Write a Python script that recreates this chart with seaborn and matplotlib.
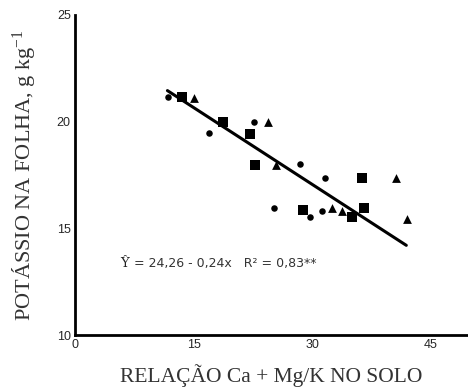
import matplotlib
matplotlib.use("Agg")
import matplotlib.pyplot as plt
import seaborn as sns
import pandas as pd
import numpy as np

# data
circ_x = [11.8, 17.0, 22.7, 28.4, 31.6, 25.2, 31.3, 29.7]
circ_y = [21.14, 19.45, 19.97, 18.0, 17.36, 15.94, 15.83, 15.52]
sq_x = [13.6, 18.7, 22.1, 22.8, 28.8, 35.0, 36.3, 36.6]
sq_y = [21.14, 19.97, 19.44, 17.98, 15.84, 15.52, 17.36, 15.97]
tri_x = [15.0, 24.4, 25.4, 32.5, 33.8, 40.6, 42.0]
tri_y = [21.1, 19.96, 17.97, 15.94, 15.81, 17.34, 15.44]

intercept = 24.26
slope = -0.24
fit_range = [11.7, 41.9]

xticks = [0, 15, 30, 45]
yticks = [10, 15, 20, 25]

df = pd.DataFrame({
    "x": circ_x + sq_x + tri_x,
    "y": circ_y + sq_y + tri_y,
    "g": ["c"] * len(circ_x) + ["s"] * len(sq_x) + ["t"] * len(tri_x),
})

sns.set_style("white")
plt.rcParams["font.family"] = ["Liberation Sans", "DejaVu Sans"]
plt.rcParams["mathtext.fontset"] = "custom"
plt.rcParams["mathtext.rm"] = "Liberation Serif"
plt.rcParams["mathtext.default"] = "rm"

fig = plt.figure(figsize=(4.68, 3.91), dpi=100)
ax = fig.add_axes([0.160, 0.143, 0.840, 0.819])

marker_map = {"c": ("o", 22), "s": ("s", 42), "t": ("^", 40)}
for g, (m, s) in marker_map.items():
    sub = df[df["g"] == g]
    sns.scatterplot(data=sub, x="x", y="y", marker=m, s=s, color="black",
                    edgecolor="black", linewidth=0, ax=ax, legend=False, zorder=3)

fx = np.array(fit_range)
sns.lineplot(x=fx, y=intercept + slope * fx, color="black", linewidth=2.2, ax=ax, zorder=2)

ax.set_xlim(0, 49.7)
ax.set_ylim(10, 25)
ax.set_xticks(xticks)
ax.set_yticks(yticks)
ax.tick_params(direction="in", length=4, width=1.5, labelsize=9, pad=3)
for side in ["top", "right"]:
    ax.spines[side].set_visible(False)
for side in ["left", "bottom"]:
    ax.spines[side].set_linewidth(2)
    ax.spines[side].set_color("black")

ax.set_xlabel("RELAÇÃO Ca + Mg/K NO SOLO", family="Liberation Serif", fontsize=15.5, labelpad=9, color="#333333")
ax.set_ylabel("POTÁSSIO NA FOLHA, g kg$^{-1}$", family="Liberation Serif", fontsize=16, labelpad=14, color="#333333")

ax.text(5.7, 13.2, "Ŷ", family="DejaVu Serif", fontsize=9.5, ha="left", va="baseline", color="#222222")
ax.text(7.0, 13.2, " = 24,26 - 0,24x   R² = 0,83**", family="DejaVu Sans", fontsize=9,
        ha="left", va="baseline", color="#333333")

fig.savefig("out.png", dpi=100)
